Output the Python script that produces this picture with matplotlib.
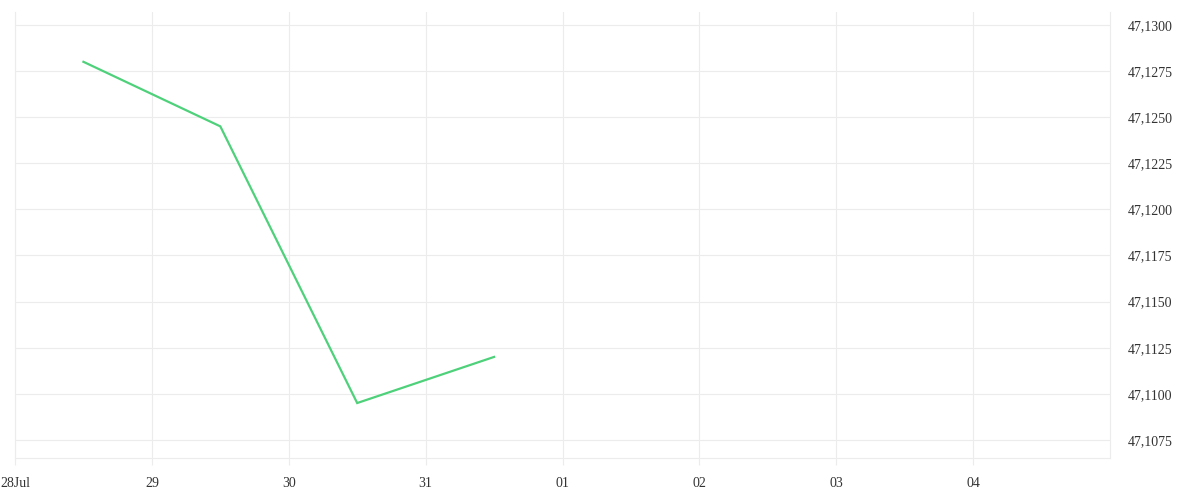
import matplotlib
matplotlib.use("Agg")
import matplotlib.pyplot as plt
import matplotlib.dates as mdates
import matplotlib.ticker as mticker
import numpy as np
import datetime as dt

dates = ["2024-07-28 12:00", "2024-07-29 12:00", "2024-07-30 12:00", "2024-07-31 12:00"]
values = [47.1280, 47.1245, 47.1095, 47.1120]
y_ticks = [47.1075, 47.1100, 47.1125, 47.1150, 47.1175, 47.1200, 47.1225, 47.1250, 47.1275, 47.1300]
x_tick_labels = ["28Jul", "29", "30", "31", "01", "02", "03", "04"]

x = [dt.datetime.strptime(d, "%Y-%m-%d %H:%M") for d in dates]
x_ticks = [dt.datetime(2024, 7, 28) + dt.timedelta(days=i) for i in range(len(x_tick_labels))]

plt.rcParams['font.family'] = ['Liberation Serif', 'DejaVu Serif']

fig = plt.figure(figsize=(12, 5), dpi=100)
ax = fig.add_axes([15/1200, 42/500, 1095/1200, 446/500])

grid_c = '#ececec'
ax.plot(x, values, color='#4ed17a', linewidth=1.6, solid_joinstyle='miter')

ax.set_xlim(dt.datetime(2024, 7, 28), dt.datetime(2024, 8, 5))
ax.set_ylim(47.10652, 47.13070)

ax.set_xticks(x_ticks)
ax.set_xticklabels(x_tick_labels)
ax.set_yticks(y_ticks)
ax.yaxis.set_major_formatter(mticker.FuncFormatter(lambda v, p: f"{v:.4f}".replace('.', ',')))
ax.yaxis.tick_right()

ax.grid(True, color=grid_c, linewidth=0.8)
ax.set_axisbelow(True)
for s in ['top']:
    ax.spines[s].set_visible(False)
for s in ['left', 'right', 'bottom']:
    ax.spines[s].set_color(grid_c)
    ax.spines[s].set_linewidth(0.8)

ax.tick_params(axis='x', length=5, width=0.8, color=grid_c, labelsize=10, labelcolor='#333333', pad=9)
ax.tick_params(axis='y', length=0, labelsize=10, labelcolor='#333333', pad=13)

fig.savefig("out.png", dpi=100, facecolor='white')
